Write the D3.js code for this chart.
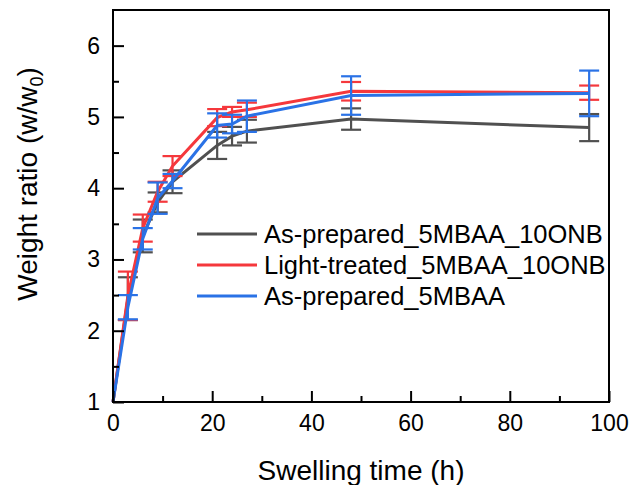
<!DOCTYPE html>
<html>
<head>
<meta charset="utf-8">
<script src="https://cdn.jsdelivr.net/npm/d3@7"></script>
<style>
  body { margin: 0; background: #fff; }
  svg { font-family: "Liberation Sans", Arial, sans-serif; }
</style>
</head>
<body>
<div id="chart"></div>
<script>
// swelling data
const times = [0, 3, 6, 9, 12, 21, 24, 27, 48, 96];
const seriesNames = ["As-prepared_5MBAA_10ONB", "Light-treated_5MBAA_10ONB", "As-prepared_5MBAA"];
const grayMean = [1, 2.45, 3.33, 3.8, 4.09, 4.6, 4.73, 4.8, 4.97, 4.85];
const grayErr  = [0, 0.3, 0.23, 0.14, 0.16, 0.19, 0.13, 0.16, 0.15, 0.19];
const redMean  = [1, 2.49, 3.44, 3.95, 4.31, 4.99, 5.07, 5.1, 5.36, 5.34];
const redErr   = [0, 0.34, 0.19, 0.14, 0.14, 0.12, 0.07, 0.1, 0.13, 0.1];
const blueMean = [1, 2.33, 3.29, 3.86, 4.1, 4.88, 4.9, 5.01, 5.3, 5.33];
const blueErr  = [0, 0.17, 0.15, 0.22, 0.1, 0.17, 0.13, 0.22, 0.27, 0.32];
const xTicks = [0, 20, 40, 60, 80, 100];
const yTicks = [1, 2, 3, 4, 5, 6];

const colors = ["#505050", "#f5383c", "#2a72e6"];
const allMeans = [grayMean, redMean, blueMean];
const allErrs = [grayErr, redErr, blueErr];

const width = 631, height = 485;
const margin = {left: 113, right: 22, top: 10, bottom: 83};

const svg = d3.select("#chart").append("svg")
    .attr("width", width)
    .attr("height", height);

const x = d3.scaleLinear().domain([0, 100]).range([margin.left, width - margin.right]);
const y = d3.scaleLinear().domain([1, 6.5]).range([height - margin.bottom, margin.top]);

// error bars first, lines on top
const line = d3.line().x(d => x(d.t)).y(d => y(d.v));

allMeans.forEach((means, i) => {
    const pts = times.map((t, j) => ({t: t, v: means[j], e: allErrs[i][j]}));
    const g = svg.append("g").attr("stroke", colors[i]).attr("stroke-width", 2.2);
    const bars = pts.filter(d => d.e > 0);
    g.selectAll(".eb").data(bars).enter().append("line")
        .attr("x1", d => x(d.t)).attr("x2", d => x(d.t))
        .attr("y1", d => y(d.v - d.e)).attr("y2", d => y(d.v + d.e));
    g.selectAll(".capT").data(bars).enter().append("line")
        .attr("x1", d => x(d.t) - 10).attr("x2", d => x(d.t) + 10)
        .attr("y1", d => y(d.v + d.e)).attr("y2", d => y(d.v + d.e));
    g.selectAll(".capB").data(bars).enter().append("line")
        .attr("x1", d => x(d.t) - 10).attr("x2", d => x(d.t) + 10)
        .attr("y1", d => y(d.v - d.e)).attr("y2", d => y(d.v - d.e));
    svg.append("path").datum(pts)
        .attr("fill", "none")
        .attr("stroke", colors[i])
        .attr("stroke-width", 3)
        .attr("d", line);
});

// axes, ticks inside
svg.append("g")
    .attr("transform", `translate(0,${height - margin.bottom})`)
    .call(d3.axisBottom(x).tickValues(xTicks).tickSize(-11).tickPadding(13).tickFormat(d3.format("d")));
svg.append("g")
    .attr("transform", `translate(0,${height - margin.bottom})`)
    .call(d3.axisBottom(x).tickValues(d3.range(10, 100, 20)).tickSize(-6).tickFormat(""));
svg.append("g")
    .attr("transform", `translate(${margin.left},0)`)
    .call(d3.axisLeft(y).tickValues(yTicks).tickSize(-11).tickPadding(13).tickFormat(d3.format("d")));
svg.append("g")
    .attr("transform", `translate(${margin.left},0)`)
    .call(d3.axisLeft(y).tickValues(d3.range(1.5, 6.5, 1)).tickSize(-6).tickFormat(""));

svg.selectAll(".domain").remove();
svg.selectAll(".tick line").attr("stroke", "#000").attr("stroke-width", 2);
svg.selectAll(".tick text").attr("font-size", 23).attr("fill", "#000")
    .attr("font-family", "Liberation Sans, Arial, sans-serif");

// frame
svg.append("rect")
    .attr("x", margin.left).attr("y", margin.top)
    .attr("width", width - margin.left - margin.right)
    .attr("height", height - margin.top - margin.bottom)
    .attr("fill", "none").attr("stroke", "#000").attr("stroke-width", 2);

// legend
const legend = svg.append("g").attr("transform", "translate(197,234)");
seriesNames.forEach((name, i) => {
    const row = legend.append("g").attr("transform", `translate(0,${i * 31})`);
    row.append("line").attr("x1", 0).attr("x2", 60).attr("y1", 0).attr("y2", 0)
        .attr("stroke", colors[i]).attr("stroke-width", 3);
    row.append("text").attr("x", 67).attr("y", 9)
        .attr("font-size", 25.5).attr("fill", "#000").text(name);
});

// axis titles
svg.append("text")
    .attr("x", (margin.left + width - margin.right) / 2)
    .attr("y", 480)
    .attr("text-anchor", "middle")
    .attr("font-size", 28)
    .text("Swelling time (h)");

const yt = svg.append("text")
    .attr("transform", "translate(37,184) rotate(-90)")
    .attr("text-anchor", "middle")
    .attr("font-size", 28);
yt.append("tspan").text("Weight ratio (w/w");
yt.append("tspan").attr("font-size", 18).attr("dy", 6).text("0");
yt.append("tspan").attr("dy", -6).text(")");
</script>
</body>
</html>
